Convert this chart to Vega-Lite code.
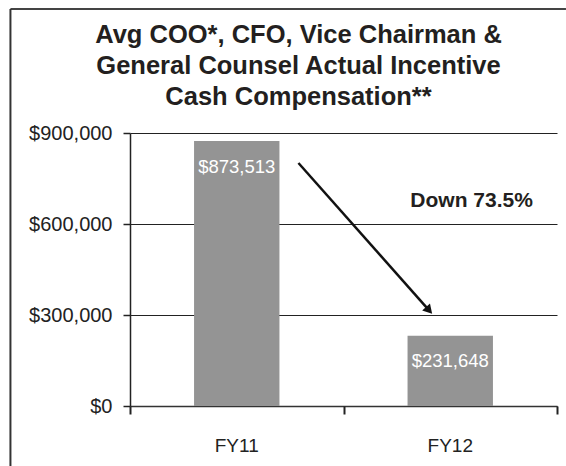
{
  "$schema": "https://vega.github.io/schema/vega-lite/v6.json",
  "width": 427,
  "height": 273,
  "autosize": {"type": "none"},
  "padding": {"left": 130, "top": 133, "right": 9, "bottom": 60},
  "background": "white",
  "view": {"stroke": null, "fill": null},
  "config": {"view": {"stroke": null}, "font": "Liberation Sans"},
  "title": {
    "text": ["Avg COO*, CFO, Vice Chairman &", "General Counsel Actual Incentive", "Cash Compensation**"],
    "font": "Liberation Sans",
    "fontSize": 25.5,
    "fontWeight": "bold",
    "lineHeight": 31,
    "color": "#231f20",
    "anchor": "middle",
    "frame": "group",
    "dx": -45,
    "offset": -102
  },
  "datasets": {
    "bars": [
      {"year": "FY11", "value": 873513, "label": "$873,513"},
      {"year": "FY12", "value": 231648, "label": "$231,648"}
    ],
    "arrow": [{"xa": 0.789, "ya": 801099, "xb": 1.401, "yb": 315494}],
    "head": [{"xa": 1.401, "ya": 315494}],
    "note": [{"xa": 1.6, "ya": 656044, "text": "Down 73.5%"}],
    "frameTop": [{"left": -0.56, "right": 2.042, "top": 1308791}],
    "frameLeft": [{"left": -0.56, "top": 1308791, "bottom": -197802}]
  },
  "resolve": {"scale": {"x": "independent"}, "axis": {"x": "independent", "y": "independent"}},
  "layer": [
    {
      "data": {"name": "bars"},
      "mark": {"type": "bar", "color": "#949494"},
      "encoding": {
        "x": {
          "field": "year", "type": "nominal", "sort": null,
          "scale": {"paddingInner": 0.6, "paddingOuter": 0.3},
          "axis": {
            "title": null, "labelAngle": 0, "ticks": true, "tickOpacity": 0,
            "tickSize": 8, "domain": true, "domainColor": "#333", "domainWidth": 1.5,
            "labelFontSize": 19, "labelColor": "#222", "labelPadding": 22,
            "labelFont": "Liberation Sans", "grid": false
          }
        },
        "y": {
          "field": "value", "type": "quantitative",
          "scale": {"domain": [0, 900000], "nice": false},
          "axis": {
            "title": null, "orient": "left", "values": [0, 300000, 600000, 900000], "format": "$,.0f",
            "labelFontSize": 20, "labelFont": "Liberation Sans", "labelColor": "#222",
            "labelPadding": 11, "tickSize": 7, "tickColor": "#222", "tickWidth": 1.5,
            "domainColor": "#222", "domainWidth": 1.5,
            "grid": true, "gridColor": "#222", "gridWidth": 1
          }
        }
      }
    },
    {
      "data": {"name": "bars"},
      "mark": {"type": "text", "color": "white", "fontSize": 18.5, "baseline": "alphabetic", "align": "center", "dy": 31.5},
      "encoding": {
        "x": {"field": "year", "type": "nominal", "sort": null, "scale": {"paddingInner": 0.6, "paddingOuter": 0.3}, "axis": null},
        "y": {"field": "value", "type": "quantitative", "scale": {"domain": [0, 900000], "nice": false}, "axis": null},
        "text": {"field": "label"}
      }
    },
    {
      "data": {"name": "frameTop"},
      "mark": {"type": "rule", "color": "#444", "strokeWidth": 2},
      "encoding": {
        "x": {
          "field": "left", "type": "quantitative",
          "scale": {"domain": [0, 2], "nice": false, "zero": false},
          "axis": {
            "orient": "bottom", "values": [0, 1, 2], "labels": false, "grid": false, "domain": false,
            "ticks": true, "tickSize": 8, "tickWidth": 2, "tickColor": "#222", "title": null
          }
        },
        "x2": {"field": "right"},
        "y": {"field": "top", "type": "quantitative", "scale": {"domain": [0, 900000], "nice": false}, "axis": null}
      }
    },
    {
      "data": {"name": "frameLeft"},
      "mark": {"type": "rule", "color": "#333", "strokeWidth": 2},
      "encoding": {
        "x": {"field": "left", "type": "quantitative", "scale": {"domain": [0, 2], "nice": false, "zero": false}, "axis": null},
        "y": {"field": "top", "type": "quantitative", "scale": {"domain": [0, 900000], "nice": false}, "axis": null},
        "y2": {"field": "bottom"}
      }
    },
    {
      "data": {"name": "arrow"},
      "mark": {"type": "rule", "color": "#111", "strokeWidth": 2.5},
      "encoding": {
        "x": {"field": "xa", "type": "quantitative", "scale": {"domain": [0, 2], "nice": false, "zero": false}, "axis": null},
        "x2": {"field": "xb"},
        "y": {"field": "ya", "type": "quantitative", "scale": {"domain": [0, 900000], "nice": false}, "axis": null},
        "y2": {"field": "yb"}
      }
    },
    {
      "data": {"name": "head"},
      "mark": {"type": "point", "shape": "triangle-up", "angle": 138, "size": 110, "filled": true, "color": "#111", "opacity": 1},
      "encoding": {
        "x": {"field": "xa", "type": "quantitative", "scale": {"domain": [0, 2], "nice": false, "zero": false}, "axis": null},
        "y": {"field": "ya", "type": "quantitative", "scale": {"domain": [0, 900000], "nice": false}, "axis": null}
      }
    },
    {
      "data": {"name": "note"},
      "mark": {"type": "text", "fontSize": 21, "fontWeight": "bold", "color": "#231f20", "align": "center", "baseline": "alphabetic"},
      "encoding": {
        "x": {"field": "xa", "type": "quantitative", "scale": {"domain": [0, 2], "nice": false, "zero": false}, "axis": null},
        "y": {"field": "ya", "type": "quantitative", "scale": {"domain": [0, 900000], "nice": false}, "axis": null},
        "text": {"field": "text"}
      }
    }
  ]
}
